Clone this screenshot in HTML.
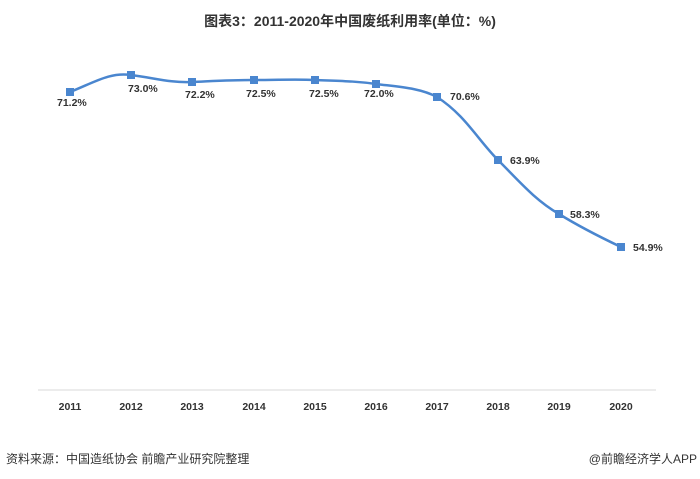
<!DOCTYPE html>
<html><head><meta charset="utf-8"><style>
body{margin:0;background:#fff;width:700px;height:479px;overflow:hidden;font-family:"Liberation Sans","Noto Sans CJK SC",sans-serif;}
</style></head><body>
<svg width="700" height="479" xmlns="http://www.w3.org/2000/svg" style="position:absolute;left:0;top:0">
<text x="350" y="26" text-anchor="middle" font-size="14" font-weight="bold" fill="#333" font-family="Liberation Sans,Noto Sans CJK SC,sans-serif">图表3：2011-2020年中国废纸利用率(单位：%)</text>
<line x1="38" y1="390" x2="656" y2="390" stroke="#d9d9d9" stroke-width="1"/>
<path d="M70,92 C95,82 110,72 131,75 C155,78 170,83 192,82 C215,81 230,80 254,80 C280,80 295,79 315,80 C340,81 355,81 376,84 C400,87 420,88 437,97 C465,115 478,140 498,160 C520,182 535,200 559,214 C580,227 600,237 621,247" fill="none" stroke="#4a86cf" stroke-width="2.5"/>
<g fill="#4a86cf">
<rect x="66" y="88" width="8" height="8"/><rect x="127" y="71" width="8" height="8"/><rect x="188" y="78" width="8" height="8"/><rect x="250" y="76" width="8" height="8"/><rect x="311" y="76" width="8" height="8"/><rect x="372" y="80" width="8" height="8"/><rect x="433" y="93" width="8" height="8"/><rect x="494" y="156" width="8" height="8"/><rect x="555" y="210" width="8" height="8"/><rect x="617" y="243" width="8" height="8"/>
</g>
<g font-size="10.5" font-weight="bold" fill="#333">
<text x="57" y="106">71.2%</text><text x="128" y="92">73.0%</text><text x="185" y="98">72.2%</text><text x="246" y="97">72.5%</text><text x="309" y="97">72.5%</text><text x="364" y="97">72.0%</text><text x="450" y="100">70.6%</text><text x="510" y="164">63.9%</text><text x="570" y="218">58.3%</text><text x="633" y="251">54.9%</text>
</g>
<g font-size="10.5" font-weight="bold" fill="#333" text-anchor="middle">
<text x="70" y="410">2011</text><text x="131" y="410">2012</text><text x="192" y="410">2013</text><text x="254" y="410">2014</text><text x="315" y="410">2015</text><text x="376" y="410">2016</text><text x="437" y="410">2017</text><text x="498" y="410">2018</text><text x="559" y="410">2019</text><text x="621" y="410">2020</text>
</g>
<text x="6" y="463" font-size="12" fill="#333">资料来源：中国造纸协会 前瞻产业研究院整理</text>
<text x="697" y="463" font-size="12" fill="#333" text-anchor="end">@前瞻经济学人APP</text>
</svg>
</body></html>
